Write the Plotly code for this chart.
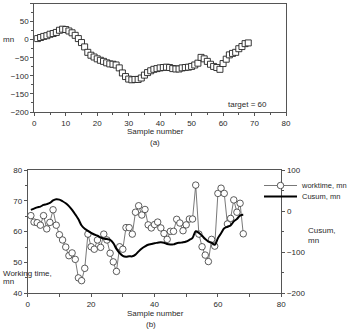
import plotly.graph_objects as go

W, H = 350, 330

# ---- data ----
samples = list(range(1, 69))
cusum = [3, 6, 9, 11, 15, 17, 20, 26, 29, 28,
         24, 19, 12, 3, -8, -20, -35, -43, -48, -53,
         -57, -60, -64, -67, -68, -70, -78, -92, -102, -109,
         -111, -110, -110, -106, -98, -91, -86, -82, -80, -78,
         -77, -76, -77, -80, -81, -81, -78, -77, -76, -74,
         -70, -65, -49, -53, -60, -68, -74, -77, -82, -66,
         -54, -42, -38, -35, -25, -19, -11, -9]
worktime = [65.2, 63.1, 62.9, 62.1, 65.2, 60.9, 63.0, 67.1, 62.1, 59.0,
            57.3, 55.0, 52.2, 53.1, 51.0, 45.0, 44.1, 48.1, 59.2, 55.1,
            54.3, 57.3, 54.9, 59.2, 57.3, 53.0, 50.2, 47.1, 55.1, 54.3,
            61.3, 61.3, 59.2, 66.3, 68.4, 65.4, 67.2, 62.2, 61.2, 62.3,
            63.1, 61.2, 59.4, 57.5, 60.1, 60.1, 64.0, 62.8, 60.3, 62.2,
            64.1, 64.1, 75.1, 59.2, 55.1, 52.4, 50.3, 57.5, 55.3, 72.4,
            74.1, 72.4, 62.5, 64.3, 70.3, 66.3, 69.2, 59.3]
target_label = "target = 60"


def px_x(x):
    return x / W


def px_y(y):
    return 1 - y / H


FONT = "Liberation Sans, Arial, Helvetica, sans-serif"
TXT = "#2a2a2a"
AX = "#555555"

fig = go.Figure()

# top chart: cusum squares
fig.add_trace(go.Scatter(
    x=samples, y=cusum, mode="markers", xaxis="x", yaxis="y",
    marker=dict(symbol="square", size=6, color="white",
                line=dict(color="#222222", width=0.9)),
    showlegend=False))

# bottom chart: worktime
fig.add_trace(go.Scatter(
    x=samples, y=worktime, mode="lines+markers", xaxis="x2", yaxis="y2",
    name="worktime, mn", legend="legend",
    line=dict(color="#555555", width=0.8),
    marker=dict(symbol="circle", size=6.5, color="white",
                line=dict(color="#333333", width=0.8))))

# bottom chart: cusum line on right axis
fig.add_trace(go.Scatter(
    x=samples, y=cusum, mode="lines", xaxis="x2", yaxis="y3",
    name="Cusum, mn", legend="legend2",
    line=dict(color="black", width=2, shape="spline", smoothing=1.0)))

axis_common = dict(
    showline=True, linecolor=AX, linewidth=1, ticks="outside",
    tickcolor=AX, ticklen=3, tickwidth=1, showgrid=False, zeroline=False,
    tickfont=dict(size=8, color=TXT, family=FONT),
)

fig.update_layout(
    width=W, height=H,
    margin=dict(l=0, r=0, t=0, b=0, autoexpand=False),
    paper_bgcolor="white", plot_bgcolor="white",
    font=dict(family=FONT, size=8, color=TXT),
    xaxis=dict(domain=[px_x(34.3), px_x(286)], range=[0, 80], anchor="y",
               tick0=0, dtick=10, mirror=True,
               minor=dict(dtick=5, ticklen=2, tickcolor=AX, ticks="outside"),
               **axis_common),
    yaxis=dict(domain=[px_y(112), px_y(3.5)], range=[-200, 100], anchor="x",
               tick0=0, dtick=50, mirror=True,
               minor=dict(dtick=25, ticklen=2, tickcolor=AX, ticks="outside"),
               **axis_common),
    xaxis2=dict(domain=[px_x(27.7), px_x(281.3)], range=[0, 80], anchor="y2",
                tick0=0, dtick=20, mirror=True,
                minor=dict(dtick=10, ticklen=3, tickcolor=AX, ticks="outside"),
                **axis_common),
    yaxis2=dict(domain=[px_y(293.3), px_y(170)], range=[40, 80], anchor="x2",
                tick0=40, dtick=10,
                minor=dict(dtick=5, ticklen=2, tickcolor=AX, ticks="outside"),
                **axis_common),
    yaxis3=dict(range=[-200, 100], overlaying="y2", side="right", anchor="x2",
                tick0=0, dtick=100,
                minor=dict(dtick=50, ticklen=2, tickcolor=AX, ticks="outside"),
                **axis_common),
    legend=dict(x=px_x(259), y=px_y(171), xanchor="left", yanchor="top",
                font=dict(size=7.5, color=TXT, family=FONT),
                bgcolor="rgba(0,0,0,0)", itemwidth=33, tracegroupgap=0),
    legend2=dict(x=px_x(259), y=px_y(182), xanchor="left", yanchor="top",
                 font=dict(size=7.5, color=TXT, family=FONT),
                 bgcolor="rgba(0,0,0,0)", itemwidth=33, tracegroupgap=0),
)

ann = [
    ("mn", 1, 39.5, "left"),
    (target_label, 247, 104, "center"),
    ("Sample number", 155, 131.5, "center"),
    ("(a)", 155, 142.5, "center"),
    ("Working time,", 1, 273.3, "left"),
    ("mn", 1, 281, "left"),
    ("Cusum,", 306, 231, "left"),
    ("mn", 306, 240, "left"),
    ("Sample number", 155, 313, "center"),
    ("(b)", 151, 324, "center"),
]
for text, x, y, anc in ann:
    fig.add_annotation(text=text, x=px_x(x), y=px_y(y), xref="paper",
                       yref="paper", xanchor=anc, yanchor="middle",
                       showarrow=False,
                       font=dict(size=8, color=TXT, family=FONT))

fig.write_html("out.html")
